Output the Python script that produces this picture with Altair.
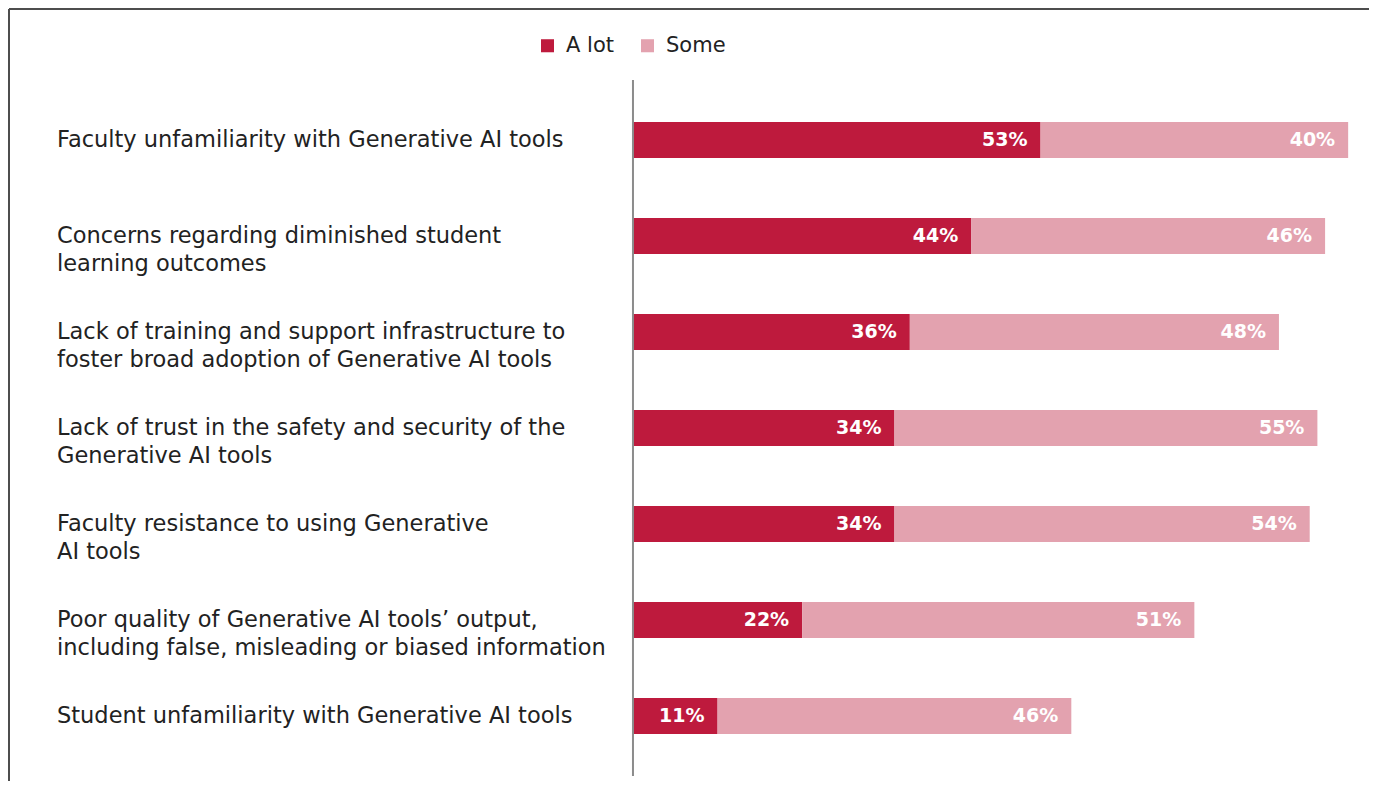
import altair as alt
import pandas as pd

categories = [
    "Faculty unfamiliarity with Generative AI tools",
    "Concerns regarding diminished student\nlearning outcomes",
    "Lack of training and support infrastructure to\nfoster broad adoption of Generative AI tools",
    "Lack of trust in the safety and security of the\nGenerative AI tools",
    "Faculty resistance to using Generative\nAI tools",
    "Poor quality of Generative AI tools\u2019 output,\nincluding false, misleading or biased information",
    "Student unfamiliarity with Generative AI tools",
]
a_lot = [53, 44, 36, 34, 34, 22, 11]
some = [40, 46, 48, 55, 54, 51, 46]
series_names = ["A lot", "Some"]
colors = ["#BE1A3D", "#E3A2AF"]

rows = []
for i, c in enumerate(categories):
    rows.append({"category": c, "series": series_names[0], "order": 0, "value": a_lot[i]})
    rows.append({"category": c, "series": series_names[1], "order": 1, "value": some[i]})
df = pd.DataFrame(rows)

FONT = "DejaVu Sans"
W, H = 1360, 772

x_scale = alt.Scale(domain=[-81.14, 95.71], nice=False, zero=False)
y_scale = alt.Scale(domain=categories, paddingInner=0.625, paddingOuter=0.8333, align=0.706)

base = alt.Chart(df).transform_stack(
    stack="value", as_=["x0", "x1"], groupby=["category"], sort=[alt.SortField("order")]
)

bars = base.mark_bar().encode(
    x=alt.X("x0:Q", scale=x_scale, axis=None),
    x2="x1:Q",
    y=alt.Y("category:N", scale=y_scale, axis=None, sort=categories),
    color=alt.Color(
        "series:N",
        scale=alt.Scale(domain=series_names, range=colors),
        legend=alt.Legend(
            title=None,
            orient="none",
            legendX=528,
            legendY=26,
            direction="horizontal",
            symbolType="square",
            symbolSize=170,
            symbolStrokeWidth=0,
            labelFontSize=21,
            labelFont=FONT,
            labelColor="#222222",
            columnPadding=23,
            labelOffset=8,
            padding=0,
        ),
    ),
)

bar_labels = base.transform_calculate(label="datum.value + '%'").mark_text(
    align="right", baseline="middle", dx=-13, color="white",
    fontWeight="bold", fontSize=19, font=FONT,
).encode(
    x=alt.X("x1:Q", scale=x_scale, axis=None),
    y=alt.Y("category:N", scale=y_scale, axis=None, sort=categories),
    text="label:N",
)

cat_df = pd.DataFrame({"category": categories})
cat_labels = alt.Chart(cat_df).mark_text(
    align="left", baseline="middle", lineBreak="\n", lineHeight=28.5,
    fontSize=22.5, font=FONT, color="#222222",
).encode(
    x=alt.value(48),
    y=alt.Y("category:N", scale=y_scale, axis=None, sort=categories),
    text="category:N",
)

one = pd.DataFrame({"z": [0]})
axis_line = alt.Chart(one).mark_rule(color="#8c8c8c", strokeWidth=2).encode(
    x=alt.X("z:Q", scale=x_scale, axis=None),
    y=alt.value(71),
    y2=alt.value(767),
)

frame_top = alt.Chart(one).mark_rule(color="#4d4d4d", strokeWidth=2).encode(
    x=alt.value(0), x2=alt.value(W), y=alt.value(0)
)
frame_left = alt.Chart(one).mark_rule(color="#4d4d4d", strokeWidth=2).encode(
    x=alt.value(0), y=alt.value(0), y2=alt.value(H)
)

chart = alt.layer(bars, bar_labels, cat_labels, axis_line, frame_top, frame_left).properties(
    width=W, height=H, padding=0
).configure_view(stroke=None)

chart.save("out.html", embed_options={"renderer": "svg", "actions": False})
